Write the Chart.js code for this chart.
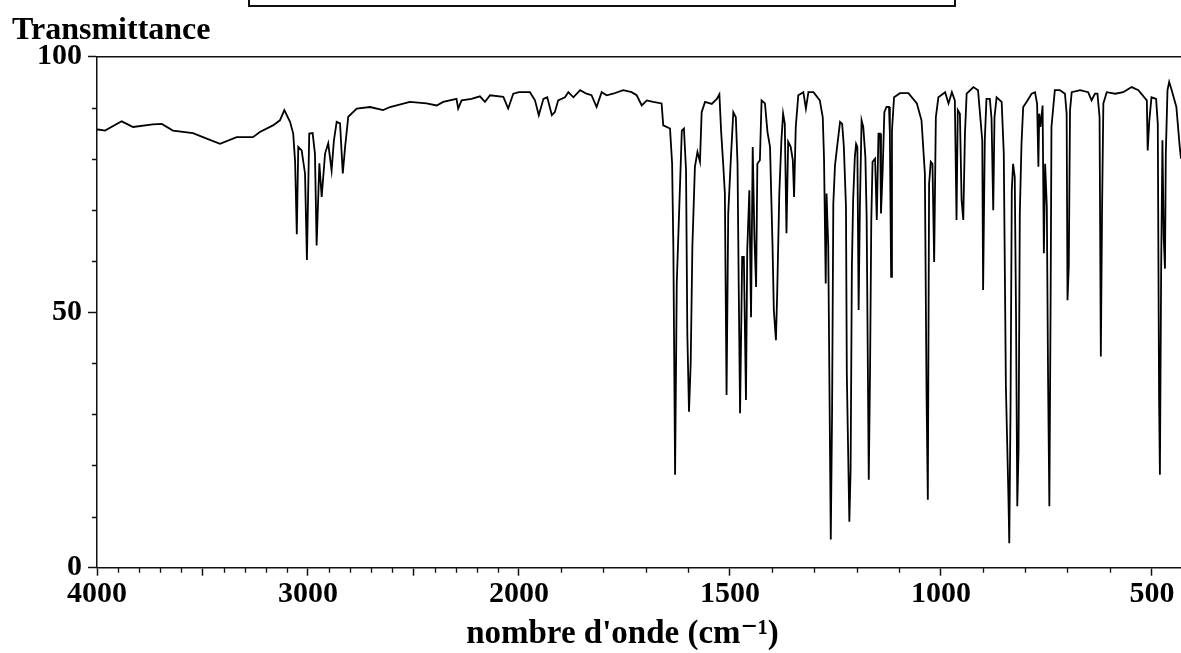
<!DOCTYPE html>
<html><head><meta charset="utf-8">
<script src="https://cdn.jsdelivr.net/npm/chart.js@4.4.1/dist/chart.umd.min.js"></script>
<style>html,body{margin:0;padding:0;background:#fff;}#wrap{width:1181px;height:653px;}</style>
</head><body><div id="wrap"><canvas id="c" width="1181" height="653"></canvas></div>
<script>
// ---- data ----
const wavenumbers = [
4000,3994,3962,3883,3829,3735,3693,3640,3545,3498,
3417,3338,3261,3228,3166,3133,3112,3085,3070,3061,
3053,3046,3030,3014,3005,2994,2978,2967,2959,2946,
2935,2919,2904,2888,2877,2864,2848,2835,2824,2809,
2769,2706,2644,2611,2517,2438,2390,2359,2296,2288,
2272,2225,2185,2161,2137,2074,2051,2027,2000,1974,
1962,1953,1942,1933,1922,1915,1907,1891,1883,1871,
1855,1840,1828,1816,1804,1792,1777,1753,1733,1721,
1709,1697,1682,1662,1658,1642,1637,1634,1630,1626,
1620,1614,1609,1604,1601,1597,1593,1589,1583,1577,
1571,1567,1559,1543,1531,1525,1521,1516,1512,1508,
1504,1498,1492,1486,1482,1479,1476,1471,1467,1462,
1459,1454,1450,1446,1442,1438,1435,1429,1425,1417,
1411,1405,1399,1396,1391,1388,1383,1378,1374,1370,
1366,1362,1356,1351,1348,1344,1338,1326,1320,1314,
1302,1287,1280,1277,1273,1271,1267,1261,1258,1255,
1251,1246,1239,1234,1230,1225,1223,1217,1214,1211,
1208,1204,1201,1198,1195,1192,1188,1184,1179,1176,
1171,1168,1165,1162,1156,1152,1148,1144,1142,1138,
1134,1129,1123,1121,1118,1116,1111,1097,1077,1057,
1046,1038,1034,1031,1028,1024,1020,1016,1012,1006,
990,982,974,967,963,960,955,951,947,943,
939,923,912,906,902,900,896,892,884,880,
876,873,868,856,851,846,840,838,835,832,
829,825,822,819,816,813,809,805,797,785,
777,772,769,767,764,759,756,753,749,746,
743,740,738,730,718,706,702,700,697,694,
690,670,651,643,635,629,624,621,618,615,
607,587,568,548,532,512,510,506,501,490,
486,483,481,478,475,472,469,467,463,459,
453,442,434,431];
const transmittance = [
85.6,85.7,85.5,87.3,86.2,86.7,86.8,85.5,85.0,84.2,
82.9,84.2,84.2,85.2,86.5,87.5,89.5,87.2,84.9,79.4,
65.2,82.3,81.6,77.1,60.2,84.9,85.0,81.0,63.0,79.1,
72.5,81.0,83.0,77.7,83.6,87.2,86.9,77.1,82.3,88.2,
89.8,90.1,89.5,90.1,91.1,90.8,90.4,91.1,91.7,89.8,
91.4,91.7,92.2,91.1,92.4,92.1,89.8,92.7,93.0,93.0,
91.4,88.5,91.7,92.0,88.5,89.1,91.4,92.0,93.0,92.0,
93.4,92.7,92.4,90.1,93.0,92.4,92.7,93.4,93.0,92.4,
90.4,91.4,91.1,90.8,86.5,85.9,79.0,62.0,18.2,55.7,
70.6,85.5,85.9,77.7,45.9,30.5,40.0,62.8,78.4,81.3,
79.4,89.1,91.1,90.7,91.7,92.6,85.5,79.0,73.2,33.8,
69.3,79.7,89.1,88.1,79.0,53.6,30.2,60.8,60.8,32.8,
62.0,73.8,49.0,82.3,64.7,54.9,79.0,79.7,91.4,90.8,
85.2,82.3,62.8,50.4,44.5,53.6,73.2,83.6,88.8,86.8,
65.4,83.3,82.3,79.7,72.5,86.2,92.4,93.0,89.8,93.0,
93.0,91.4,88.1,80.0,55.6,73.2,62.8,5.5,29.6,71.2,
78.7,82.3,87.2,86.8,82.3,70.6,38.0,9.0,19.1,58.8,
71.9,80.3,82.9,82.3,50.4,70.6,87.5,86.2,80.3,68.6,
17.2,38.0,68.0,79.4,80.0,68.0,84.9,84.9,69.3,77.7,
89.1,90.1,90.1,85.0,56.9,85.5,92.0,92.8,92.8,90.8,
87.5,77.1,33.5,13.3,75.1,79.4,79.0,59.8,88.1,92.0,
93.0,90.8,93.0,91.4,68.0,89.5,88.8,71.9,68.0,84.9,
92.7,94.0,93.4,87.5,83.6,54.3,83.6,91.7,91.7,87.8,
69.9,88.1,92.0,91.1,81.0,35.4,13.9,4.8,31.5,73.8,
79.0,76.4,49.7,12.0,23.0,69.3,82.9,90.1,91.1,92.7,
93.0,90.7,78.4,88.8,86.2,90.4,61.5,79.0,70.6,36.7,
12.0,52.3,86.2,93.4,93.4,92.7,88.8,52.3,58.8,89.5,
93.0,93.4,93.0,91.4,92.7,92.7,88.1,41.3,70.6,90.8,
93.0,92.7,93.0,94.0,93.4,91.4,81.6,87.5,92.0,91.7,
86.8,33.5,18.2,58.8,83.6,64.7,58.5,81.0,93.4,95.0,
93.4,90.1,82.3,80.0];

// ---- axis ticks and texts ----
const majorTicksX = [4000,3500,3000,2500,2000,1500,1000,500];
const labelledTicksX = [4000,3000,2000,1500,1000,500];
const minorTicksX = [3900,3800,3700,3600,3400,3300,3200,3100,2900,2800,2700,2600,2400,2300,2200,2100,1900,1800,1700,1600,1400,1300,1200,1100,900,800,700,600];
const ticksY = [0,50,100];
const minorTicksY = [10,20,30,40,60,70,80,90];
const yTitle = 'Transmittance';
const xTitle = "nombre d'onde (cm\u207B\u00B9)";

const FONT = "'Liberation Serif', 'DejaVu Serif', serif";
const INK = '#111';

// IR axis: 4000-2000 at one scale, below 2000 at twice that scale
const fold = w => (w >= 2000 ? w : 2 * w - 2000);
const unfold = d => (d >= 2000 ? d : (d + 2000) / 2);
class IRAxis extends Chart.LinearScale {
  getPixelForValue(value) {
    const a = fold(this.min), b = fold(this.max);
    return this.getPixelForDecimal((fold(value) - a) / (b - a));
  }
  getValueForPixel(pixel) {
    const a = fold(this.min), b = fold(this.max);
    return unfold(a + this.getDecimalForPixel(pixel) * (b - a));
  }
}
IRAxis.id = 'irAxis';
Chart.register(IRAxis);

const minorTickPlugin = {
  id: 'minorTicks',
  afterDraw(chart) {
    const {ctx, chartArea} = chart;
    const xs = chart.scales.x, ys = chart.scales.y;
    ctx.save();
    ctx.strokeStyle = INK; ctx.lineWidth = 1.3;
    ctx.beginPath();
    minorTicksX.forEach(v => {
      const px = Math.round(xs.getPixelForValue(v)) + 0.5;
      ctx.moveTo(px, chartArea.bottom); ctx.lineTo(px, chartArea.bottom + 5);
    });
    minorTicksY.forEach(v => {
      const py = Math.round(ys.getPixelForValue(v)) + 0.5;
      ctx.moveTo(chartArea.left - 5, py); ctx.lineTo(chartArea.left, py);
    });
    ctx.stroke();
    ctx.restore();
  }
};
const headerBoxPlugin = {
  id: 'headerBox',
  beforeDraw(chart) {
    const ctx = chart.ctx;
    ctx.save();
    ctx.strokeStyle = INK; ctx.lineWidth = 2;
    ctx.strokeRect(249, -6, 706, 12);
    ctx.restore();
  }
};

new Chart(document.getElementById('c'), {
  type: 'line',
  data: {
    datasets: [{
      data: wavenumbers.map((w, i) => ({x: w, y: transmittance[i]})),
      xAxisID: 'x', yAxisID: 'y',
      borderColor: '#000', borderWidth: 1.8, pointRadius: 0, tension: 0, fill: false
    }]
  },
  options: {
    responsive: false, animation: false, events: [],
    layout: {padding: {left: 12, top: 0, right: 0, bottom: 0}},
    plugins: {
      legend: {display: false}, tooltip: {enabled: false},
      title: {
        display: true, text: yTitle, align: 'start', color: '#000',
        font: {family: FONT, size: 32, weight: 'bold', lineHeight: 1.2},
        padding: {top: 12, bottom: 6}
      }
    },
    scales: {
      x: {
        type: 'irAxis', position: 'bottom', min: 431, max: 4000, reverse: true,
        afterBuildTicks: s => { s.ticks = majorTicksX.map(v => ({value: v})); },
        ticks: {
          autoSkip: false, maxRotation: 0, minRotation: 0, padding: 1, color: '#000',
          font: {family: FONT, size: 30, weight: 'bold', lineHeight: 1.2},
          callback: v => (labelledTicksX.includes(v) ? String(v) : '')
        },
        grid: {display: true, drawOnChartArea: false, drawTicks: true, tickLength: 8, tickColor: INK, tickWidth: 1.5},
        border: {display: true, color: INK, width: 1.5},
        title: {
          display: true, text: xTitle + '\u2003', color: '#000',
          font: {family: FONT, size: 33, weight: 'bold', lineHeight: 1.1},
          padding: {top: 3, bottom: 0}
        }
      },
      xTop: {
        type: 'linear', position: 'top', min: 0, max: 1,
        ticks: {display: false}, grid: {display: false, drawTicks: false},
        border: {display: true, color: INK, width: 1.5},
        afterFit: s => { s.height = 0; }
      },
      y: {
        type: 'linear', position: 'left', min: 0, max: 100,
        afterBuildTicks: s => { s.ticks = ticksY.map(v => ({value: v})); },
        afterFit: s => { s.width = 85; },
        ticks: {
          padding: 6, color: '#000',
          font: {family: FONT, size: 30, weight: 'bold', lineHeight: 1.2}
        },
        grid: {display: true, drawOnChartArea: false, drawTicks: true, tickLength: 9, tickColor: INK, tickWidth: 1.5},
        border: {display: true, color: INK, width: 1.5}
      }
    }
  },
  plugins: [minorTickPlugin, headerBoxPlugin]
});
</script>
</body></html>
